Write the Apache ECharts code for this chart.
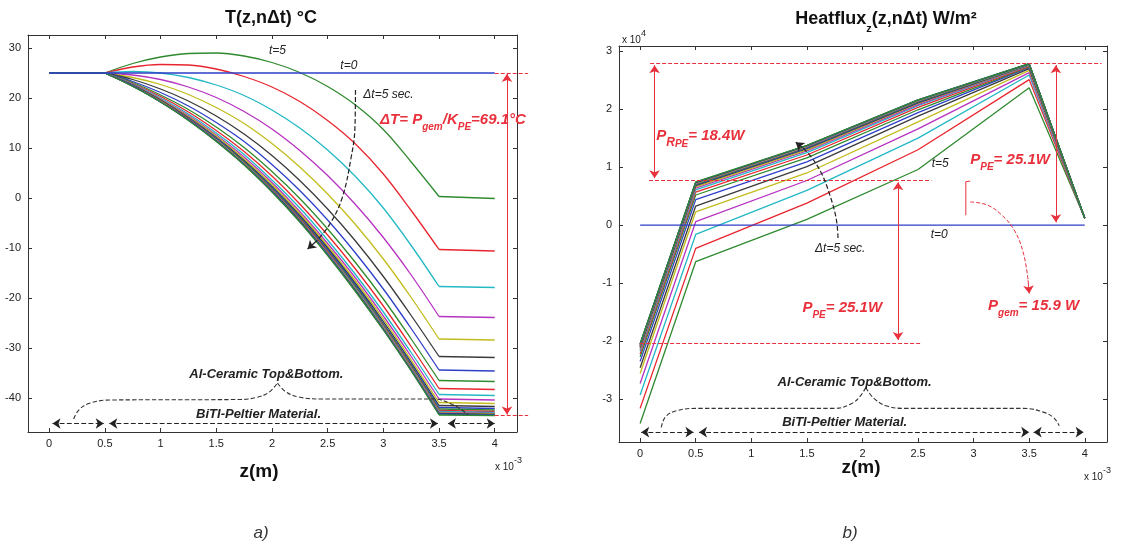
<!DOCTYPE html>
<html lang="en">
<head>
  <meta charset="UTF-8">
  <title>T(z,nΔt) and Heatflux</title>
  <script src="https://cdn.jsdelivr.net/npm/echarts@6/dist/echarts.min.js"></script>
  <style>
    body { margin: 0; background: #fff; }
    #main { width: 1130px; height: 549px; }
  </style>
</head>
<body>
<div id="main"></div>
<script>
  // ---- data (z in 1e-3 m) ----
  const zTicks = [0, 0.5, 1, 1.5, 2, 2.5, 3, 3.5, 4];
  const tempTicks = [-40, -30, -20, -10, 0, 10, 20, 30];
  const fluxTicks = [-3, -2, -1, 0, 1, 2, 3];

  // temperature profiles, °C
  const zTemp = [0, 0.5, 0.75, 1, 1.25, 1.5, 1.75, 2, 2.25, 2.5, 2.75, 3, 3.25, 3.5, 4];
  const tempT0 = [25, 25, 25, 25, 25, 25, 25, 25, 25, 25, 25, 25, 25, 25, 25];
  const tempCurves = [
    [25, 25, 26.9, 28.2, 28.9, 29.0, 28.4, 27.1, 25.1, 22.3, 18.6, 13.7, 7.2, 0.3, -0.1],
    [25, 25, 26.2, 26.7, 26.6, 25.8, 24.3, 22.2, 19.3, 15.5, 10.8, 4.8, -2.5, -10.3, -10.6],
    [25, 25, 25.3, 25.0, 24.1, 22.6, 20.5, 17.6, 14.0, 9.6, 4.3, -2.0, -9.5, -17.7, -17.9],
    [25, 25, 24.6, 23.7, 22.2, 20.1, 17.3, 13.8, 9.5, 4.5, -1.3, -7.9, -15.4, -23.7, -23.9],
    [25, 25, 24.1, 22.7, 20.7, 18.1, 14.9, 10.9, 6.2, 0.8, -5.3, -12.2, -19.9, -28.2, -28.4],
    [25, 25, 23.7, 21.8, 19.4, 16.4, 12.8, 8.5, 3.5, -2.2, -8.6, -15.7, -23.5, -31.7, -31.9],
    [25, 25, 23.3, 21.1, 18.4, 15.1, 11.3, 6.7, 1.5, -4.4, -11.0, -18.2, -26.1, -34.4, -34.6],
    [25, 25, 23.1, 20.6, 17.7, 14.2, 10.1, 5.3, -0.1, -6.2, -12.9, -20.2, -28.2, -36.5, -36.7],
    [25, 25, 22.9, 20.3, 17.2, 13.5, 9.3, 4.4, -1.2, -7.4, -14.2, -21.6, -29.7, -38.1, -38.3],
    [25, 25, 22.8, 20.0, 16.8, 13.0, 8.7, 3.6, -2.0, -8.4, -15.3, -22.8, -30.9, -39.3, -39.5],
    [25, 25, 22.7, 19.8, 16.5, 12.6, 8.2, 3.1, -2.7, -9.1, -16.0, -23.6, -31.7, -40.2, -40.4],
    [25, 25, 22.6, 19.7, 16.3, 12.4, 7.8, 2.7, -3.1, -9.6, -16.6, -24.2, -32.4, -40.9, -41.1],
    [25, 25, 22.6, 19.6, 16.1, 12.1, 7.5, 2.3, -3.5, -10.0, -17.1, -24.7, -32.9, -41.5, -41.7],
    [25, 25, 22.5, 19.5, 16.0, 12.0, 7.3, 2.1, -3.8, -10.3, -17.4, -25.1, -33.2, -41.9, -42.1],
    [25, 25, 22.5, 19.4, 15.9, 11.8, 7.2, 1.9, -4.0, -10.6, -17.7, -25.3, -33.5, -42.2, -42.4],
    [25, 25, 22.4, 19.4, 15.8, 11.7, 7.0, 1.7, -4.2, -10.8, -18.0, -25.6, -33.8, -42.5, -42.7],
    [25, 25, 22.4, 19.3, 15.7, 11.6, 6.9, 1.6, -4.4, -11.0, -18.1, -25.8, -34.0, -42.7, -42.9],
    [25, 25, 22.4, 19.3, 15.7, 11.5, 6.8, 1.5, -4.5, -11.1, -18.3, -26.0, -34.2, -42.9, -43.1],
    [25, 25, 22.4, 19.3, 15.6, 11.5, 6.8, 1.4, -4.6, -11.2, -18.4, -26.1, -34.3, -43.0, -43.2],
    [25, 25, 22.4, 19.2, 15.6, 11.4, 6.7, 1.4, -4.6, -11.3, -18.5, -26.2, -34.4, -43.1, -43.3],
    [25, 25, 22.4, 19.2, 15.6, 11.4, 6.7, 1.3, -4.7, -11.3, -18.6, -26.3, -34.5, -43.2, -43.4],
    [25, 25, 22.3, 19.2, 15.5, 11.3, 6.6, 1.2, -4.8, -11.5, -18.7, -26.4, -34.6, -43.4, -43.5]
  ];

  // heat flux profiles, 1e4 W/m2
  const zFlux = [0, 0.5, 1.5, 2.5, 3.5, 4];
  const fluxT0 = [0, 0, 0, 0, 0, 0];
  const fluxCurves = [
    [-3.42, -0.63, 0.10, 0.96, 2.37, 0.12],
    [-3.16, -0.40, 0.38, 1.30, 2.51, 0.12],
    [-2.93, -0.16, 0.60, 1.50, 2.59, 0.12],
    [-2.73, 0.06, 0.77, 1.66, 2.63, 0.12],
    [-2.56, 0.23, 0.90, 1.78, 2.67, 0.12],
    [-2.46, 0.33, 1.01, 1.88, 2.70, 0.12],
    [-2.35, 0.44, 1.09, 1.94, 2.72, 0.12],
    [-2.27, 0.52, 1.16, 1.99, 2.73, 0.12],
    [-2.22, 0.57, 1.21, 2.03, 2.74, 0.12],
    [-2.18, 0.61, 1.25, 2.06, 2.75, 0.12],
    [-2.15, 0.64, 1.28, 2.08, 2.755, 0.12],
    [-2.13, 0.66, 1.30, 2.10, 2.76, 0.12],
    [-2.11, 0.68, 1.32, 2.11, 2.765, 0.12],
    [-2.10, 0.695, 1.33, 2.12, 2.77, 0.12],
    [-2.09, 0.705, 1.34, 2.13, 2.77, 0.12],
    [-2.08, 0.715, 1.35, 2.14, 2.775, 0.12],
    [-2.07, 0.72, 1.355, 2.145, 2.775, 0.12],
    [-2.065, 0.725, 1.36, 2.15, 2.78, 0.12],
    [-2.06, 0.73, 1.365, 2.15, 2.78, 0.12],
    [-2.055, 0.735, 1.37, 2.155, 2.78, 0.12],
    [-2.05, 0.74, 1.37, 2.16, 2.785, 0.12],
    [-2.045, 0.745, 1.375, 2.16, 2.785, 0.12]
  ];

  // matlab default colour order: b g r c m y k
  const curveColors = ['#2e3fc8', '#2f8a2f', '#e8252e', '#22b8c4', '#b632c0', '#c2bc1c', '#3a3a3a'];

  // ---- style ----
  const FONT = 'Liberation Sans, Arial, Helvetica, sans-serif';
  const RED = '#e8313c';
  const INK = '#222';

  const chart = echarts.init(document.getElementById('main'));

  function xAxis(gridIndex, position) {
    const bottom = position === 'bottom';
    return {
      type: 'value', gridIndex: gridIndex, position: position, min: -0.19, max: 4.2,
      axisLine: {show: true, onZero: false, lineStyle: {color: '#333', width: 1}},
      axisTick: {show: true, inside: true, length: 4, customValues: zTicks, lineStyle: {color: '#333'}},
      axisLabel: {show: bottom, customValues: zTicks, margin: 6, color: INK, fontSize: 11, fontFamily: FONT},
      splitLine: {show: false}
    };
  }

  function yAxis(gridIndex, position, min, max, ticks) {
    const left = position === 'left';
    return {
      type: 'value', gridIndex: gridIndex, position: position, min: min, max: max,
      axisLine: {show: true, onZero: false, lineStyle: {color: '#333', width: 1}},
      axisTick: {show: true, inside: true, length: 4, customValues: ticks, lineStyle: {color: '#333'}},
      axisLabel: {show: left, customValues: ticks, margin: 7, color: INK, fontSize: 11, fontFamily: FONT},
      splitLine: {show: false}
    };
  }

  function curve(ax, xs, ys, color, smooth, z) {
    return {
      type: 'line', xAxisIndex: ax, yAxisIndex: ax,
      data: xs.map((x, j) => [x, ys[j]]),
      smooth: smooth, symbol: 'none', z: z,
      lineStyle: {color: color, width: 1.3}
    };
  }

  // temperature curve: flat ceramic ends drawn straight, Peltier part smoothed
  function tempCurve(row, color, z) {
    return [
      curve(0, zTemp.slice(0, 2), row.slice(0, 2), color, false, z),
      curve(0, zTemp.slice(1, 14), row.slice(1, 14), color, 0.35, z),
      curve(0, zTemp.slice(13), row.slice(13), color, false, z)
    ];
  }

  // straight segments, optionally with arrow heads
  function seg(ax, coordsList, color, dashed, symbols, width) {
    return {
      type: 'lines', coordinateSystem: 'cartesian2d', xAxisIndex: ax, yAxisIndex: ax,
      symbol: symbols, symbolSize: 8, clip: false, silent: true, z: 10,
      lineStyle: {color: color, width: width || 1, type: dashed ? 'dashed' : 'solid', opacity: 1},
      data: coordsList.map(c => ({coords: c}))
    };
  }

  // free dashed path (braces, curved arrows)
  function path(ax, pts, color, smooth, width) {
    return {
      type: 'line', xAxisIndex: ax, yAxisIndex: ax, data: pts, smooth: smooth,
      symbol: 'none', clip: false, silent: true, z: 10,
      lineStyle: {color: color, width: width || 1, type: 'dashed'}
    };
  }

  const series = [];
  tempCurves.forEach((row, i) => series.push(...tempCurve(row, curveColors[(i + 1) % 7], 2)));
  series.push(curve(0, zTemp, tempT0, curveColors[0], false, 3));
  fluxCurves.forEach((row, i) => series.push(curve(2, zFlux, row, curveColors[(i + 1) % 7], false, 2)));
  series.push(curve(2, zFlux, fluxT0, curveColors[0], false, 3));

  // ---- annotations, left panel ----
  series.push(seg(0, [[[4.0, 25], [4.3, 25]], [[4.0, -43.5], [4.3, -43.5]]], RED, true, ['none', 'none']));
  series.push(seg(0, [[[4.11, 24.8], [4.11, -43.3]]], RED, false, ['arrow', 'arrow']));
  series.push(path(0, [[2.75, 21.6], [2.745, 14], [2.71, 8], [2.63, 0], [2.52, -5.2], [2.40, -8.6]], INK, 0.4, 1.2));
  series.push(seg(0, [[[2.40, -8.6], [2.32, -10.2]]], INK, false, ['none', 'arrow'], 1.2));
  series.push(path(0, [[0.22, -44.2], [0.27, -42.3], [0.37, -41.0], [0.55, -40.4], [1.7, -40.3],
    [1.86, -39.9], [1.97, -38.9], [2.05, -37.0]], '#333', 0.4, 1.1));
  series.push(path(0, [[2.05, -37.0], [2.12, -38.7], [2.24, -39.8], [2.45, -40.2], [3.45, -40.2],
    [3.62, -41.3], [3.76, -43.3]], '#333', 0.4, 1.1));
  series.push(seg(0, [[[0.03, -45.1], [0.49, -45.1]], [[0.54, -45.1], [3.49, -45.1]],
    [[3.58, -45.1], [4.0, -45.1]]], INK, true, ['arrow', 'arrow'], 1.2));

  // ---- annotations, right panel ----
  series.push(seg(2, [[[0.09, 2.79], [4.15, 2.79]], [[0.08, 0.78], [2.62, 0.78]], [[0.0, -2.04], [2.52, -2.04]]],
    RED, true, ['none', 'none']));
  series.push(seg(2, [[[0.13, 2.76], [0.13, 0.81]], [[3.74, 2.76], [3.74, 0.05]], [[2.32, 0.74], [2.32, -1.98]]],
    RED, false, ['arrow', 'arrow']));
  series.push(path(2, [[2.97, 0.40], [3.12, 0.35], [3.25, 0.18], [3.37, -0.1], [3.45, -0.5], [3.49, -0.95]], RED, 0.4, 1));
  series.push(seg(2, [[[3.49, -0.95], [3.50, -1.18]]], RED, false, ['none', 'arrow']));
  series.push({
    type: 'line', xAxisIndex: 2, yAxisIndex: 2, data: [[2.97, 0.76], [2.93, 0.75], [2.93, 0.17]],
    symbol: 'none', silent: true, z: 10, lineStyle: {color: RED, width: 1}
  });
  series.push(path(2, [[1.78, -0.22], [1.765, 0.1], [1.71, 0.5], [1.63, 0.9], [1.53, 1.2], [1.46, 1.34]], INK, 0.4, 1.2));
  series.push(seg(2, [[[1.46, 1.34], [1.40, 1.43]]], INK, false, ['none', 'arrow'], 1.2));
  series.push(path(2, [[0.19, -3.49], [0.23, -3.3], [0.33, -3.2], [0.5, -3.16], [1.75, -3.16],
    [1.9, -3.08], [1.98, -2.95], [2.03, -2.80]], '#333', 0.4, 1.1));
  series.push(path(2, [[2.03, -2.80], [2.1, -2.98], [2.22, -3.12], [2.4, -3.16], [3.45, -3.16],
    [3.62, -3.22], [3.72, -3.32], [3.77, -3.46]], '#333', 0.4, 1.1));
  series.push(seg(2, [[[0.01, -3.57], [0.48, -3.57]], [[0.53, -3.57], [3.5, -3.57]],
    [[3.54, -3.57], [3.99, -3.57]]], INK, true, ['arrow', 'arrow'], 1.2));

  const option = {
    animation: false,
    backgroundColor: '#fff',
    grid: [
      {left: 28, top: 35, width: 489, height: 397},
      {left: 619, top: 46, width: 488, height: 396}
    ],
    xAxis: [xAxis(0, 'bottom'), xAxis(0, 'top'), xAxis(1, 'bottom'), xAxis(1, 'top')],
    yAxis: [
      yAxis(0, 'left', -46.8, 32.6, tempTicks), yAxis(0, 'right', -46.8, 32.6, tempTicks),
      yAxis(1, 'left', -3.74, 3.09, fluxTicks), yAxis(1, 'right', -3.74, 3.09, fluxTicks)
    ],
    series: series
  };
  chart.setOption(option);

  // ---- text ----
  const tok = (size, extra) => Object.assign({fontFamily: FONT, fontSize: size, lineHeight: 20}, extra);
  const redMain = tok(15, {fontWeight: 'bold', fontStyle: 'italic', fill: RED, color: RED, verticalAlign: 'top'});
  const redSub = tok(10, {fontWeight: 'bold', fontStyle: 'italic', fill: RED, color: RED, verticalAlign: 'bottom'});
  const redSubR = tok(12, {fontWeight: 'bold', fontStyle: 'italic', fill: RED, color: RED, verticalAlign: 'bottom'});
  const note = tok(12, {fontStyle: 'italic', fill: INK, color: INK});
  const label = tok(13, {fontWeight: 'bold', fontStyle: 'italic', fill: INK, color: INK});
  const richAll = {r: redMain, s: redSub, sr: redSubR, n: note, l: label};

  // ax: axis index pair of the panel (0 = left, 2 = right)
  function txt(ax, x, y, text, align) {
    const p = chart.convertToPixel({xAxisIndex: ax, yAxisIndex: ax}, [x, y]);
    return {type: 'text', x: p[0], y: p[1], z: 100, silent: true,
      style: {text: text, rich: richAll, align: align || 'center', verticalAlign: 'middle'}};
  }
  function ptxt(x, y, text, rich, align) {
    return {type: 'text', x: x, y: y, z: 100, silent: true,
      style: {text: text, rich: rich, align: align || 'center', verticalAlign: 'middle'}};
  }

  const titleRich = {
    b: {fontFamily: FONT, fontSize: 18, fontWeight: 'bold', fill: '#111', color: '#111', lineHeight: 24, verticalAlign: 'top'},
    s: {fontFamily: FONT, fontSize: 11, fontWeight: 'bold', fill: '#111', color: '#111', lineHeight: 24, verticalAlign: 'bottom'}
  };
  const expRich = {
    a: {fontFamily: FONT, fontSize: 10, fill: INK, color: INK, lineHeight: 16, verticalAlign: 'bottom'},
    e: {fontFamily: FONT, fontSize: 9, fill: INK, color: INK, lineHeight: 16, verticalAlign: 'top'}
  };
  const capRich = {
    z: {fontFamily: FONT, fontSize: 19, fontWeight: 'bold', fill: '#111', color: '#111'},
    c: {fontFamily: FONT, fontSize: 17, fontStyle: 'italic', fill: '#333', color: '#333'}
  };

  const graphic = [
    ptxt(271, 21, '{b|T(z,nΔt) °C}', titleRich),
    ptxt(886, 22, '{b|Heatflux}{s|z}{b|(z,nΔt) W/m²}', titleRich),
    ptxt(259, 472, '{z|z(m)}', capRich),
    ptxt(861, 468, '{z|z(m)}', capRich),
    ptxt(261, 533, '{c|a)}', capRich),
    ptxt(850, 533, '{c|b)}', capRich),
    ptxt(495, 464, '{a|x 10}{e|-3}', expRich, 'left'),
    ptxt(1084, 474, '{a|x 10}{e|-3}', expRich, 'left'),
    ptxt(622, 37, '{a|x 10}{e|4}', expRich, 'left'),

    txt(0, 2.05, 29.4, '{n|t=5}'),
    txt(0, 2.69, 26.5, '{n|t=0}'),
    txt(0, 2.82, 20.6, '{n|Δt=5 sec.}', 'left'),
    txt(0, 2.97, 15.2, '{r|ΔT= P}{s|gem}{r|/K}{s|PE}{r|=69.1°C}', 'left'),
    txt(0, 1.95, -35.2, '{l|Al-Ceramic Top&Bottom.}'),
    txt(0, 1.88, -43.2, '{l|BiTI-Peltier Material.}'),

    txt(2, 0.145, 1.49, '{r|P}{sr|R}{s|PE}{r|= 18.4W}', 'left'),
    txt(2, 2.97, 1.09, '{r|P}{s|PE}{r|= 25.1W}', 'left'),
    txt(2, 1.46, -1.47, '{r|P}{s|PE}{r|= 25.1W}', 'left'),
    txt(2, 3.13, -1.43, '{r|P}{s|gem}{r|= 15.9 W}', 'left'),
    txt(2, 2.70, 1.06, '{n|t=5}'),
    txt(2, 2.69, -0.16, '{n|t=0}'),
    txt(2, 1.80, -0.40, '{n|Δt=5 sec.}'),
    txt(2, 1.93, -2.72, '{l|Al-Ceramic Top&Bottom.}'),
    txt(2, 1.84, -3.41, '{l|BiTI-Peltier Material.}')
  ];
  chart.setOption({graphic: graphic});
</script>
</body>
</html>
